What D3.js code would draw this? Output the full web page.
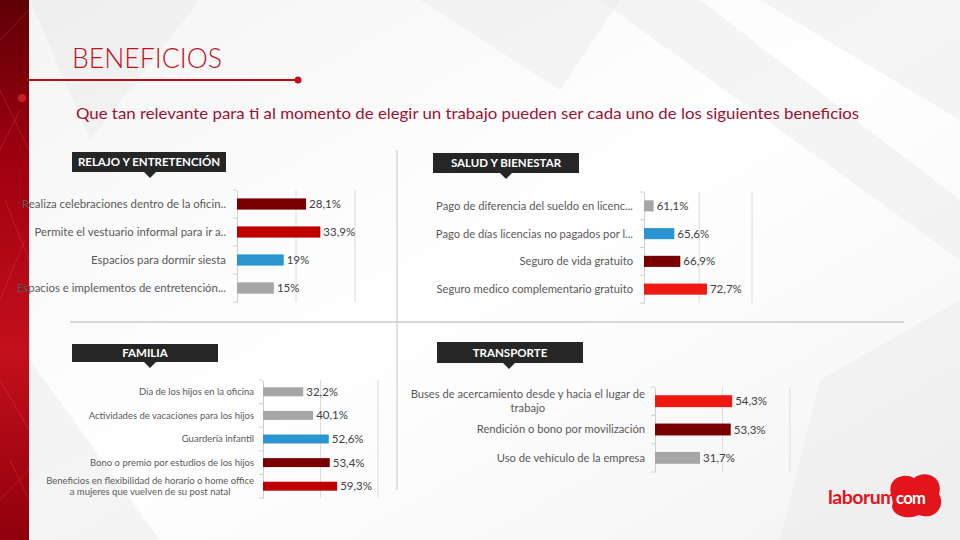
<!DOCTYPE html>
<html><head><meta charset="utf-8">
<script src="https://cdn.jsdelivr.net/npm/d3@7"></script>
<style>body{margin:0;background:#fff;overflow:hidden;} svg{display:block;}</style>
</head><body><svg id="c" width="960" height="540"></svg>
<script>
// ---------------- DATA ----------------
const titleText = "BENEFICIOS";
const subtitleText = "Que tan relevante para ti al momento de elegir un trabajo pueden ser cada uno de los siguientes beneficios";

const relajoTitle = "RELAJO Y ENTRETENCIÓN";
const relajoCategories = ["Realiza celebraciones dentro de la oficin..", "Permite el vestuario informal para ir a..", "Espacios para dormir siesta", "Espacios e implementos de entretención..."];
const relajoValues = [28.1, 33.9, 19, 15];

const saludTitle = "SALUD Y BIENESTAR";
const saludCategories = ["Pago de diferencia del sueldo en licenc...", "Pago de días licencias no pagados por l...", "Seguro de vida gratuito", "Seguro medico complementario gratuito"];
const saludValues = [61.1, 65.6, 66.9, 72.7];

const familiaTitle = "FAMILIA";
const familiaCategories = ["Día de los hijos en la oficina", "Actividades de vacaciones para los hijos", "Guardería infantil", "Bono o premio por estudios de los hijos", "Beneficios en flexibilidad de horario o home office\na mujeres que vuelven de su post natal"];
const familiaValues = [32.2, 40.1, 52.6, 53.4, 59.3];

const transporteTitle = "TRANSPORTE";
const transporteCategories = ["Buses de acercamiento desde y hacia el lugar de\ntrabajo", "Rendición o bono por movilización", "Uso de vehículo de la empresa"];
const transporteValues = [54.3, 53.3, 31.7];

// gridline tick values per panel
const relajoGrid = [24, 48];
const saludGrid = [71, 82.5];
const familiaGrid = [46, 92];
const transporteGrid = [47.5, 95];

// ---------------- STYLE ----------------
const MAROON = "#7a0000", RED = "#c00000", BRIGHT = "#ee1a12", BLUE = "#2a95d0", GREY = "#a6a6a6";
const FONT = "Lato, 'Open Sans', sans-serif";

const svg = d3.select("#c");
const defs = svg.append("defs");

// background
const bg = defs.append("linearGradient").attr("id", "bg").attr("x1", 0).attr("y1", 0).attr("x2", 1).attr("y2", 1);
bg.append("stop").attr("offset", 0).attr("stop-color", "#f4f4f4");
bg.append("stop").attr("offset", 0.5).attr("stop-color", "#ffffff");
bg.append("stop").attr("offset", 1).attr("stop-color", "#f3f3f3");
svg.append("rect").attr("width", 960).attr("height", 540).attr("fill", "url(#bg)");
// faint geometric shapes
const shapes = [
  [[30,0],[200,0],[90,140]], [[420,0],[620,0],[560,90]], [[760,0],[960,0],[960,120]],
  [[820,380],[960,300],[960,540],[780,540]], [[30,360],[160,540],[30,540]], [[600,0],[700,0],[960,200],[960,260]]
];
svg.append("g").selectAll("path").data(shapes).join("path")
  .attr("d", d => "M" + d.join("L") + "Z").attr("fill", "#e9e9e9").attr("opacity", 0.45);

// left red strip
const lg = defs.append("linearGradient").attr("id", "strip").attr("x1", 0).attr("y1", 0).attr("x2", 0).attr("y2", 1);
lg.append("stop").attr("offset", 0).attr("stop-color", "#5e0006");
lg.append("stop").attr("offset", 0.3).attr("stop-color", "#a00010");
lg.append("stop").attr("offset", 0.65).attr("stop-color", "#c3101c");
lg.append("stop").attr("offset", 1).attr("stop-color", "#8f000c");
svg.append("rect").attr("x", 0).attr("y", 0).attr("width", 29).attr("height", 540).attr("fill", "url(#strip)");
const net = [[0,40,29,10],[0,90,29,150],[5,200,29,260],[0,300,25,240],[0,380,29,430],[10,460,29,500],[0,150,20,110],[0,500,29,470]];
svg.append("g").selectAll("line").data(net).join("line")
  .attr("x1", d => d[0]).attr("y1", d => d[1]).attr("x2", d => d[2]).attr("y2", d => d[3])
  .attr("stroke", "#ff4a4a").attr("stroke-width", 0.6).attr("opacity", 0.5);
svg.append("circle").attr("cx", 22).attr("cy", 98).attr("r", 4).attr("fill", "#ff3030").attr("opacity", 0.6);

// title
svg.append("text").attr("x", 72).attr("y", 68).text(titleText)
  .attr("font-family", FONT).attr("font-weight", 300).attr("font-size", 27).attr("fill", "#c0121c")
  .attr("textLength", 150).attr("lengthAdjust", "spacingAndGlyphs");
svg.append("line").attr("x1", 29).attr("x2", 298).attr("y1", 80).attr("y2", 80)
  .attr("stroke", "#b3101a").attr("stroke-width", 2);
svg.append("circle").attr("cx", 298).attr("cy", 80).attr("r", 3.5).attr("fill", "#c0121c");

svg.append("text").attr("x", 76).attr("y", 119).text(subtitleText)
  .attr("font-family", FONT).attr("font-size", 15).attr("fill", "#9c1230")
  .attr("textLength", 783).attr("lengthAdjust", "spacingAndGlyphs");

// dividers
svg.append("line").attr("x1", 397).attr("x2", 397).attr("y1", 150).attr("y2", 490).attr("stroke", "#d6d6d6").attr("stroke-width", 1.5);
svg.append("line").attr("x1", 70).attr("x2", 904).attr("y1", 322).attr("y2", 322).attr("stroke", "#d6d6d6").attr("stroke-width", 2);

// header boxes
function header(txt, x0, x1, y0, y1, px) {
  const g = svg.append("g");
  g.append("rect").attr("x", x0).attr("y", y0).attr("width", x1 - x0).attr("height", y1 - y0).attr("fill", "#262626");
  g.append("path").attr("d", `M${px-6},${y1}L${px+6},${y1}L${px},${y1+6}Z`).attr("fill", "#262626");
  g.append("text").attr("x", (x0 + x1) / 2).attr("y", (y0 + y1) / 2).attr("dy", "0.36em")
    .attr("text-anchor", "middle").attr("font-family", FONT).attr("font-weight", 700)
    .attr("font-size", 11.5).attr("fill", "#fff").text(txt);
}
header(relajoTitle, 72, 226, 152, 172, 150);
header(saludTitle, 433, 579, 153, 173, 506);
header(familiaTitle, 72, 218, 344, 362, 150);
header(transporteTitle, 437, 583, 342, 363, 509);

const fmt = v => (Number.isInteger(v) ? String(v) : v.toFixed(1).replace(".", ",")) + "%";

function panel(cfg) {
  const g = svg.append("g");
  const x = d3.scaleLinear().domain(cfg.domain).range([cfg.ax, cfg.ax + cfg.w]);
  const y = d3.scaleBand().domain(cfg.cats).range([cfg.y0, cfg.y1]).paddingInner(cfg.pad).paddingOuter(cfg.pad / 2);
  // gridlines
  g.selectAll("line.grid").data(cfg.grid).join("line").attr("class", "grid")
    .attr("x1", d => x(d)).attr("x2", d => x(d)).attr("y1", cfg.y0).attr("y2", cfg.y1)
    .attr("stroke", "#dcdcdc").attr("stroke-width", 1);
  // axis
  const ax = g.append("g").attr("transform", `translate(${cfg.ax},0)`)
    .call(d3.axisLeft(y).tickSize(0).tickFormat(""));
  ax.select(".domain").attr("stroke", "#cfcfcf");
  const step = y.step();
  const bounds = d3.range(cfg.cats.length + 1).map(i => cfg.y0 + i * step);
  g.selectAll("line.tk").data(bounds).join("line").attr("class", "tk")
    .attr("x1", cfg.ax - 4).attr("x2", cfg.ax).attr("y1", d => d).attr("y2", d => d)
    .attr("stroke", "#cfcfcf");
  // bars
  g.selectAll("rect.bar").data(cfg.vals).join("rect").attr("class", "bar")
    .attr("x", x(cfg.domain[0])).attr("y", (d, i) => y(cfg.cats[i]))
    .attr("width", d => x(d) - x(cfg.domain[0])).attr("height", y.bandwidth())
    .attr("fill", (d, i) => cfg.colors[i]);
  // value labels
  g.selectAll("text.val").data(cfg.vals).join("text").attr("class", "val")
    .attr("x", d => x(d) + 3).attr("y", (d, i) => y(cfg.cats[i]) + y.bandwidth() / 2).attr("dy", "0.35em")
    .attr("font-family", FONT).attr("font-size", cfg.vfs).attr("fill", "#404040").text(d => fmt(d));
  // category labels
  cfg.cats.forEach((c, i) => {
    const lines = c.split("\n");
    const cy = y(c) + y.bandwidth() / 2;
    const lh = cfg.lfs * 1.25;
    const t = g.append("text").attr("font-family", FONT).attr("font-size", cfg.lfs).attr("fill", "#595959");
    if (lines.length === 1) {
      t.attr("x", cfg.ax - cfg.gap).attr("y", cy).attr("dy", "0.35em").attr("text-anchor", "end").text(c);
    } else {
      const spans = lines.map((l, k) => t.append("tspan").text(l)
        .attr("y", cy + (k - (lines.length - 1) / 2) * lh).attr("dy", "0.35em"));
      const wMax = d3.max(spans, s => s.node().getComputedTextLength());
      const cx = cfg.ax - cfg.gap - wMax / 2;
      spans.forEach(s => s.attr("x", cx).attr("text-anchor", "middle"));
    }
  });
}

panel({cats: relajoCategories, vals: relajoValues, grid: relajoGrid, domain: [0, 48], ax: 237, w: 118,
  y0: 190, y1: 302, pad: 0.6, gap: 11, lfs: 11.4, vfs: 11.5, colors: [MAROON, RED, BLUE, GREY]});
panel({cats: saludCategories, vals: saludValues, grid: saludGrid, domain: [59, 82.5], ax: 644, w: 108,
  y0: 192, y1: 303, pad: 0.6, gap: 11, lfs: 11.2, vfs: 11.5, colors: [GREY, BLUE, MAROON, BRIGHT]});
panel({cats: familiaCategories, vals: familiaValues, grid: familiaGrid, domain: [0, 92], ax: 263, w: 115,
  y0: 380, y1: 498, pad: 0.62, gap: 9, lfs: 9.5, vfs: 11.5, colors: [GREY, GREY, BLUE, MAROON, RED]});
panel({cats: transporteCategories, vals: transporteValues, grid: transporteGrid, domain: [0, 95], ax: 655, w: 135,
  y0: 387, y1: 472, pad: 0.58, gap: 10, lfs: 11.2, vfs: 11.5, colors: [BRIGHT, MAROON, GREY]});

// logo
const logo = svg.append("g");
logo.append("path").attr("d", "M891,494 C887,479 903,472 914,478 C925,469 944,477 939,494 C946,506 935,521 919,515 C904,522 888,512 893,503 Z")
  .attr("fill", "#e3141c");
logo.append("text").attr("x", 828).attr("y", 504).attr("font-family", FONT).attr("font-weight", 700)
  .attr("font-size", 19.5).attr("fill", "#e3141c").attr("letter-spacing", -0.5).text("laborum");
logo.append("text").attr("x", 896).attr("y", 504).attr("font-family", FONT).attr("font-weight", 700)
  .attr("font-size", 16.5).attr("fill", "#fff").attr("letter-spacing", -0.6).text("com");
</script></body></html>
